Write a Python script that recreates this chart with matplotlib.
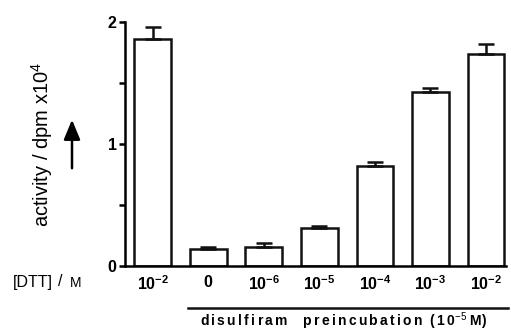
import matplotlib
matplotlib.use("Agg")
import matplotlib.pyplot as plt
import numpy as np

plt.rcParams['font.family'] = ['Liberation Sans', 'DejaVu Sans']
plt.rcParams['mathtext.fontset'] = 'custom'
plt.rcParams['mathtext.rm'] = 'Liberation Sans'
plt.rcParams['mathtext.bf'] = 'Liberation Sans:bold'

# data
labels = ['-2', '0', '-6', '-5', '-4', '-3', '-2']
values = [1.86, 0.137, 0.158, 0.309, 0.817, 1.426, 1.738]
errors = [0.10, 0.02, 0.03, 0.02, 0.033, 0.035, 0.08]

fig = plt.figure(figsize=(5.11, 3.32), dpi=100)
ax = fig.add_axes([0.2446, 0.1988, 0.7454, 0.7349])

x = np.arange(len(values))
ax.bar(x, values, width=0.66, color='white', edgecolor='#111111', linewidth=1.8,
       yerr=[np.zeros(len(errors)), errors],
       error_kw=dict(ecolor='#111111', elinewidth=1.8, capsize=6, capthick=1.8),
       zorder=2)

ax.set_xlim(-0.5, 6.36)
ax.set_ylim(0, 2)
for s in ['top', 'right']:
    ax.spines[s].set_visible(False)
ax.spines['left'].set_linewidth(1.8)
ax.spines['bottom'].set_linewidth(1.8)

ax.set_yticks([0, 1, 2])
ax.set_yticks([0.5, 1.5], minor=True)
ax.tick_params(axis='y', which='both', direction='out', length=4, width=1.8, pad=2)
ax.tick_params(axis='y', labelsize=11.5)
for t in ax.get_yticklabels():
    t.set_fontweight('bold')

ticklabels = []
for l in labels:
    if l == '0':
        ticklabels.append(r'$\mathbf{0}$')
    else:
        ticklabels.append(r'$\mathbf{10^{%s}}$' % l)
ax.set_xticks(x)
ax.set_xticklabels(ticklabels, fontsize=11.5)
ax.tick_params(axis='x', length=0, pad=6)

# y label with arrow
fig.text(42 / 511, 1 - 144 / 332, r'activity / dpm x10$^4$', rotation=90,
         ha='center', va='center', fontsize=14.5)
fig.add_artist(matplotlib.patches.FancyArrowPatch(
    (72 / 511, 1 - 171 / 332), (72 / 511, 1 - 117 / 332),
    transform=fig.transFigure, arrowstyle='-|>,head_length=1.2,head_width=0.5',
    mutation_scale=10, color='black', linewidth=1.8))

# [DTT] / M
yl = 1 - 282 / 332
fig.text(13 / 511, yl, '[DTT]', ha='left', va='center', fontsize=11.5)
fig.text(58 / 511, yl, '/', ha='left', va='center', fontsize=11.5)
fig.text(70 / 511, yl - 0.002, 'M', ha='left', va='center', fontsize=10)

# bracket line + group caption
fig.add_artist(matplotlib.lines.Line2D([188 / 511, 508 / 511],
                                       [1 - 307.5 / 332, 1 - 307.5 / 332],
                                       transform=fig.transFigure,
                                       color='#111111', linewidth=1.8))
hs = '\u200a\u200a'
cap = hs.join('disulfiram') + '    ' + hs.join('preincubation') + '  ' + hs.join('(10')
fig.text(200 / 511, 1 - 321.5 / 332,
         cap + r'$^{-5}$' + ' M)',
         ha='left', va='center', fontsize=10, fontweight='bold')

fig.savefig('out.png', dpi=100)
